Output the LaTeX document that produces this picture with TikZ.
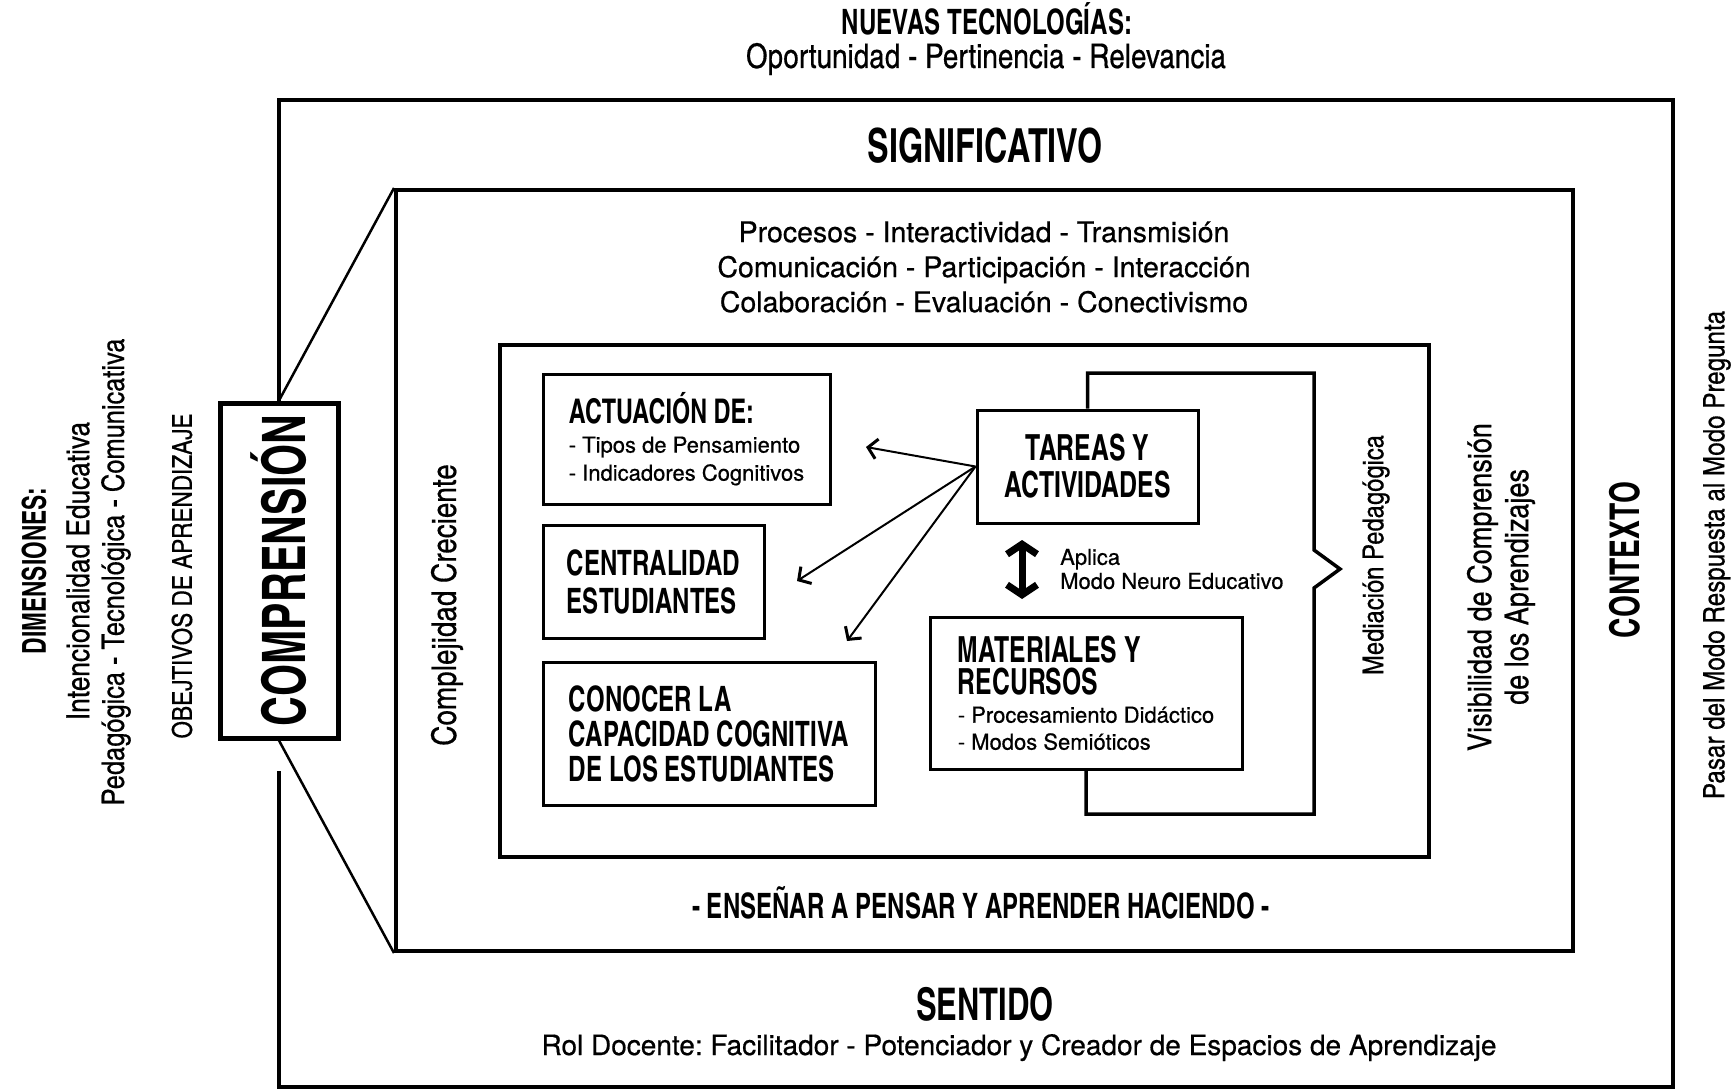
\documentclass[tikz,border=0pt]{standalone}
\usepackage{fontspec}
\usepackage{graphicx}
\usepackage{tikz}
\usetikzlibrary{arrows.meta}
\setmainfont{TeX Gyre Heros}[FakeBold=0.6]
\newfontfamily\headfont[FakeStretch=0.84]{texgyreheroscn-bold.otf}
\newfontfamily\condfont[FakeBold=0.4]{texgyreheroscn-regular.otf}
\newcommand\cardhead[2]{{\headfont\fontsize{#1}{#1}\selectfont #2}}
\tikzset{
	frameBox/.style  = {draw, rectangle, line width=4pt, inner sep=0pt},
	cardBox/.style   = {draw, rectangle, line width=3pt, inner sep=0pt},
	headTxt/.style 2 args  = {font=\headfont\fontsize{#1}{#2}\selectfont, inner sep=0pt},
	condTxt/.style 2 args  = {font=\condfont\fontsize{#1}{#2}\selectfont, inner sep=0pt},
	plainTxt/.style 2 args = {font=\fontsize{#1}{#2}\selectfont, inner sep=0pt},
}

\begin{document}
\frenchspacing
\begin{tikzpicture}[ x=1pt, y=-1pt,                 %<--pixel grid, y grows downwards
                     line join=miter,
                     >/.tip={Straight Barb[length=9pt, width=20pt, line width=3pt]}
                     ]
    \useasboundingbox (0,0) rectangle (1736,1089);

    %-- Frames creation --%
    \draw
      % COMPRENSION %
      node(compBox) at (279,570.5) [frameBox, line width=5pt, minimum width=118pt, minimum height=335pt]
        {\rotatebox{90}{\headfont\fontsize{60}{60}\selectfont COMPRENSIÓN}}
      % NESTED FRAMES %
      node(meaningBox) at (984.5,570.5) [frameBox, minimum width=1177pt, minimum height=761pt]{}
      node(mediaBox) at (964.5,601) [frameBox, line width=3.5pt, minimum width=929pt, minimum height=512pt]{}
    ;
    \draw
      % CARDS %
      node(actuacion) at (686.5,439) [plainTxt={22}{28}, cardBox, align=left, minimum width=287pt, minimum height=130pt]
        {\cardhead{34}{ACTUACIÓN DE:}\\[1pt] - Tipos de Pensamiento\\ - Indicadores Cognitivos}
      node(centralidad) at (653.5,581.5) [headTxt={35}{38}, cardBox, align=left, minimum width=221pt, minimum height=113pt]
        {CENTRALIDAD\\ESTUDIANTES}
      node(conocer) at (709,733.5) [headTxt={35}{35}, cardBox, align=left, minimum width=332pt, minimum height=143pt]
        {CONOCER LA\\CAPACIDAD COGNITIVA\\DE LOS ESTUDIANTES}
      node(tareasAct) at (1087.5,466.5) [headTxt={36}{37}, cardBox, align=center, minimum width=221pt, minimum height=113pt]
        {TAREAS Y\\ACTIVIDADES}
      node(matRec) at (1086,693) [plainTxt={22}{27}, cardBox, align=left, minimum width=312pt, minimum height=152pt]
        {\cardhead{36}{MATERIALES Y}\\[4pt] \cardhead{36}{RECURSOS}\\[1pt] - Procesamiento Didáctico\\ - Modos Semióticos}
      node(aplica) at (1060,569) [plainTxt={22}{24}, anchor=west, align=left]
        {Aplica\\Modo Neuro Educativo}
    ;
    \draw
      % TOP AND BOTTOM TEXTS %
      node(newTech) at (987,35) [headTxt={35}{35}, anchor=base] {NUEVAS TECNOLOGÍAS:}
      node(newTechSub) at (986,68) [condTxt={34}{34}, anchor=base] {Oportunidad - Pertinencia - Relevancia}
      node(significativo) at (985,162) [headTxt={47}{47}, anchor=base] {SIGNIFICATIVO}
      node(procesos) at (984,267) [plainTxt={28.5}{35}, align=center]
        {Procesos - Interactividad - Transmisión\\Comunicación - Participación - Interacción\\Colaboración - Evaluación - Conectivismo}
      node(ensenar) at (981,918) [headTxt={35}{35}, anchor=base] {- ENSEÑAR A PENSAR Y APRENDER HACIENDO -}
      node(sentido) at (985,1020) [headTxt={45}{45}, anchor=base] {SENTIDO}
      node(rolDocente) at (1019,1055) [plainTxt={28}{30}, anchor=base]
        {Rol Docente: Facilitador - Potenciador y Creador de Espacios de Aprendizaje}
    ;
    \draw
      % SIDE TEXTS %
      node(dimTitle) at (34,571) [headTxt={33}{33}, rotate=90] {DIMENSIONES:}
      node(dimLineA) at (78,571) [condTxt={32}{32}, rotate=90] {Intencionalidad Educativa}
      node(dimLineB) at (116,572) [condTxt={31}{31}, rotate=90] {Pedagógica - Tecnológica - Comunicativa}
      node(objetivos) at (182,576) [condTxt={27.5}{28}, rotate=90] {OBEJTIVOS DE APRENDIZAJE}
      node(complejidad) at (447,605) [condTxt={34}{34}, rotate=90] {Complejidad Creciente}
      node(mediacion) at (1376,555) [condTxt={29}{29}, rotate=90] {Mediación Pedagógica}
      node(visibilidad) at (1501,587) [condTxt={33}{37}, rotate=90, align=center]
        {Visibilidad de Comprensión\\de los Aprendizajes}
      node(contexto) at (1625,560) [headTxt={41}{41}, rotate=90] {CONTEXTO}
      node(pasar) at (1717,555) [condTxt={29.5}{30}, rotate=90] {Pasar del Modo Respuesta al Modo Pregunta}
    ;

    %-- Frame linking --%
    \coordinate (outerGap) at (279,771);
    \coordinate (outerSW)  at (279,1087);
    \coordinate (outerNE)  at (1673,100);
    \draw[line width=4pt] (outerGap) -- (outerSW) -| (outerNE) -| (compBox.north);

    % ZOOM LINES %
    \draw[line width=2.5pt] (compBox.north) -- (meaningBox.north west);
    \draw[line width=2.5pt] (compBox.south) -- (meaningBox.south west);

    % MEDIACION BRACKET %
    \coordinate (bracketTop) at (1314,373);
    \coordinate (bracketIn)  at (1314,550);
    \coordinate (bracketTip) at (1340,569);
    \coordinate (bracketOut) at (1314,588);
    \coordinate (bracketBot) at (1314,814);
    \draw[line width=3.5pt] (tareasAct.north) |- (bracketTop) -- (bracketIn) -- (bracketTip)
                            -- (bracketOut) -- (bracketBot) -| (matRec.south);

    % TAREAS ARROWS %
    \coordinate (tipAct) at (866,447);
    \coordinate (tipCen) at (797,581);
    \coordinate (tipCon) at (847,641);
    \draw[->, line width=2pt] (tareasAct.west) -- (tipAct);
    \draw[->, line width=2pt] (tareasAct.west) -- (tipCen);
    \draw[->, line width=2pt] (tareasAct.west) -- (tipCon);

    % NEURO DOUBLE ARROW %
    \coordinate (neuroTop) at (1022,540);
    \coordinate (neuroBot) at (1022,599);
    \draw[<->, line width=7pt, >={Straight Barb[length=10pt, width=30pt, line width=7pt]}] (neuroTop) -- (neuroBot);

\end{tikzpicture}
\end{document}
